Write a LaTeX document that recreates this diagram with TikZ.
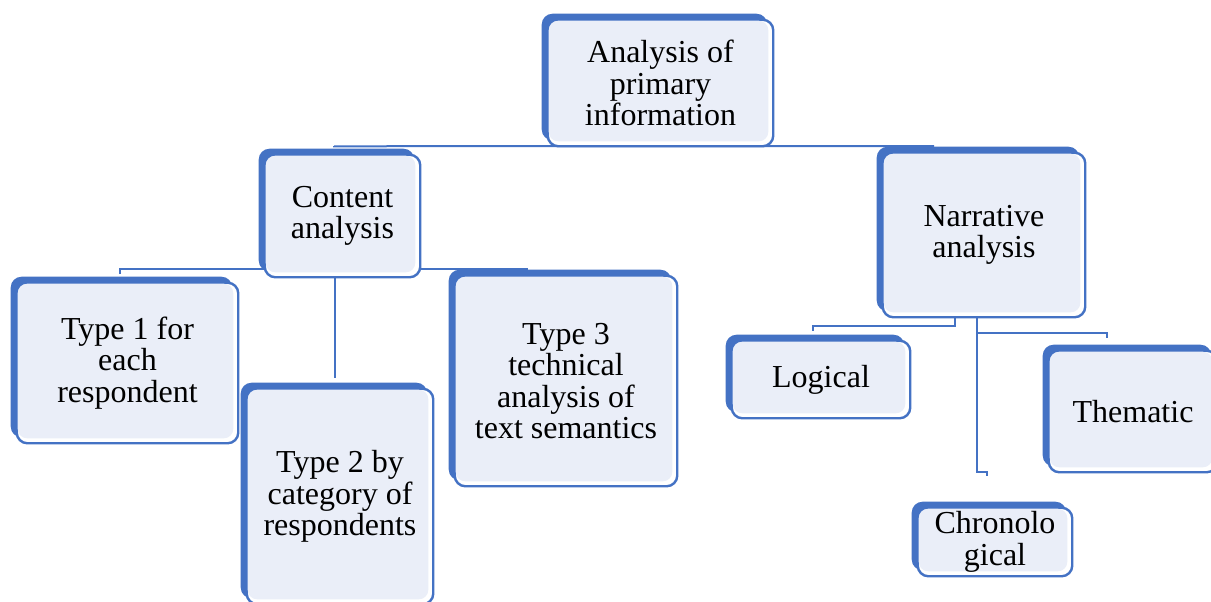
\documentclass[tikz,border=0pt]{standalone}
\usepackage{fontspec}
\setmainfont{Liberation Serif}
\definecolor{sablue}{HTML}{4472C4}
\definecolor{salight}{HTML}{EAEEF8}
\pgfdeclarelayer{lines}
\pgfdeclarelayer{background}
\pgfsetlayers{lines,background,main}
\tikzset{
  card/.style={rectangle, inner sep=0pt, align=center,
    font=\fontsize{24}{23.5}\selectfont},
  link/.style={draw=sablue, line width=1.5pt}
}
% blue offset backing, white framed box, light inner panel
\newcommand\cardbg[1]{%
  \begin{pgfonlayer}{background}
    \fill[sablue, rounded corners=8pt]
      ([shift={(-6,-6)}]#1.north west) rectangle ([shift={(-6,-6)}]#1.south east);
    \draw[sablue, line width=1.8pt, fill=white, rounded corners=8pt]
      (#1.north west) rectangle (#1.south east);
    \fill[salight, rounded corners=7pt]
      ([shift={(1,1)}]#1.north west) rectangle ([shift={(-5,-5)}]#1.south east);
  \end{pgfonlayer}}
\begin{document}
\begin{tikzpicture}[x=0.75pt, y=-0.75pt]
\useasboundingbox (0,0) rectangle (1211,601);

% boxes
\node[card, minimum width=168.75pt, minimum height=94.5pt] (root) at (660.5,83) {Analysis of\\primary\\information};
\node[card, minimum width=116.25pt, minimum height=91.5pt] (content) at (342.5,216) {Content\\analysis};
\node[card, minimum width=165.75pt, minimum height=120pt] (type1) at (127.5,363) {Type 1 for\\each\\respondent};
\node[card, minimum width=139.5pt, minimum height=161.25pt] (type2) at (340,496.5) {Type 2 by\\category of\\respondents};
\node[card, minimum width=166.5pt, minimum height=157.5pt] (type3) at (566,381) {Type 3\\technical\\analysis of\\text semantics};
\node[card, minimum width=151.5pt, minimum height=123pt] (narr) at (984,235) {Narrative\\analysis};
\node[card, minimum width=133.5pt, minimum height=57.75pt] (logical) at (821,379.5) {Logical};
\node[card, minimum width=126pt, minimum height=90.75pt] (thematic) at (1133,411.5) {Thematic};
\node[card, minimum width=115.5pt, minimum height=51pt] (chrono) at (995,542) {Chronolo\\gical};

\cardbg{root}
\cardbg{content}
\cardbg{type1}
\cardbg{type2}
\cardbg{type3}
\cardbg{narr}
\cardbg{logical}
\cardbg{thematic}
\cardbg{chrono}

% connector end points
\coordinate (busL) at (334,146);
\coordinate (busR) at (934,146);
\coordinate (cTick) at (120,274);
\coordinate (cEnd) at (528,269);
\coordinate (t2top) at (335,378);
\coordinate (nLk) at (955,326);
\coordinate (logT) at (813,331);
\coordinate (chrV) at (977,472);
\coordinate (chrT) at (987,476);
\coordinate (nRk) at (977,333);
\coordinate (themT) at (1107,338);

\begin{pgfonlayer}{lines}
  \draw[link] (busL) -- (root.south -| busL) -- (busR);
  \draw[link] (cTick) |- (content.south |- cEnd) -- (cEnd);
  \draw[link] (t2top |- content.south) -- (t2top);
  \draw[link] (narr.south -| nLk) -- (nLk) -| (logT);
  \draw[link] (narr.south -| chrV) -- (chrV) -| (chrT);
  \draw[link] (nRk) -| (themT);
\end{pgfonlayer}
\end{tikzpicture}
\end{document}
